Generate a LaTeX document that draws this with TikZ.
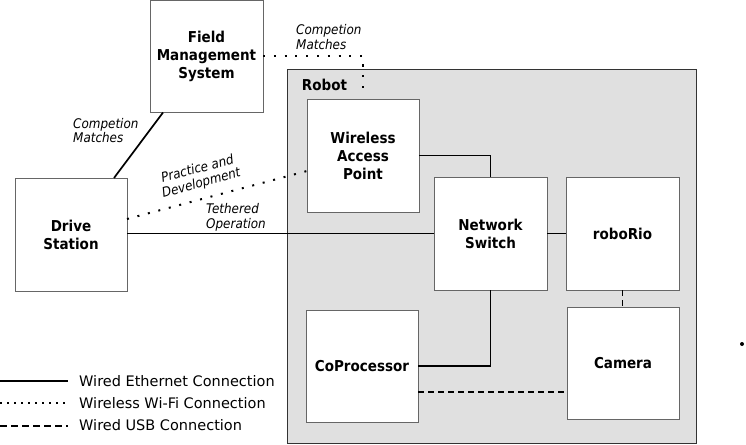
\documentclass[tikz,border=0pt]{standalone}
\usepackage{fontspec}
\setmainfont{DejaVu Sans}
\newfontfamily\condfont{DejaVu Sans}[FakeStretch=0.9]
\usetikzlibrary{calc}
\definecolor{robotfill}{HTML}{E0E0E0}
\definecolor{boxline}{HTML}{666666}
\definecolor{robotline}{HTML}{333333}
\tikzset{
  box/.style={draw=boxline, line width=0.9pt, fill=white, anchor=north west,
    inner sep=0pt, outer sep=0pt, align=center,
    font=\condfont\bfseries\fontsize{15}{18}\selectfont},
  lbl/.style={inner sep=0pt, font=\condfont\itshape\fontsize{13.3}{14.5}\selectfont},
  legtext/.style={inner sep=0pt, anchor=west, font=\fontsize{14.5}{17}\selectfont},
  eth/.style={line width=1.7pt},
  wifi/.style={line width=2pt, line cap=butt, dash pattern=on 2pt off 8.8pt},
  usb/.style={line width=1.7pt, dash pattern=on 6pt off 4pt},
  legwifi/.style={line width=1.5pt, dash pattern=on 1.5pt off 5.5pt},
  legusb/.style={line width=1.7pt, dash pattern=on 7pt off 4pt},
}
\begin{document}
\begin{tikzpicture}[x=1pt,y=-1pt]
\useasboundingbox (0,0) rectangle (746,444);
% robot container
\node[draw=robotline, line width=1pt, fill=robotfill, anchor=north west, inner sep=0pt,
  minimum width=409pt, minimum height=374pt] (robot) at (287,69) {};
\node[inner sep=0pt, font=\condfont\bfseries\fontsize{15}{18}\selectfont] (robotlbl) at (324.5,85) {Robot};
% boxes
\node[box, minimum width=113pt, minimum height=112pt] (fms) at (150,0.5) {Field\\Management\\System};
\node[box, minimum width=112pt, minimum height=113pt] (ds) at (15,178) {Drive\\Station};
\node[box, minimum width=112pt, minimum height=113pt] (wap) at (307,99) {Wireless\\Access\\Point};
\node[box, minimum width=113pt, minimum height=113pt] (ns) at (434,177) {Network\\Switch};
\node[box, minimum width=113pt, minimum height=113pt] (rio) at (566,177) {roboRio};
\node[box, minimum width=112pt, minimum height=112pt] (cam) at (567,307) {Camera};
\node[box, minimum width=112pt, minimum height=112pt] (cop) at (306,310) {CoProcessor};
% connectors
\draw[eth] ($(fms.south west)+(13,0)$) -- ($(ds.north east)+(-13,0)$);
\coordinate (wapin) at ($(wap.north)+(0,-3)$);
\draw[wifi] (fms.east) -| (wapin);
\draw[wifi] ($(ds.east)+(0,-15.5)$) -- ($(wap.west)+(0,15.5)$);
\draw[eth] (ns.west) -- (ns.west -| ds.east);
\draw[eth] (wap.east) -| (ns.north);
\draw[eth] (ns.east) -- (rio.west);
\draw[eth] (ns.south) |- (cop.east);
\draw[usb] (rio.south) -- (rio.south |- cam.north);
\coordinate (copusb) at ($(cop.east)+(0,26)$);
\draw[usb] (copusb) -- (copusb -| cam.west);
% labels
\node[lbl, align=left, anchor=west] (l1) at (296,37) {Competion\\Matches};
\node[lbl, align=left, anchor=west] (l2) at (73,130.5) {Competion\\Matches};
\node[lbl, align=center, rotate=15] (l3) at (199.5,176.5) {Practice and\\Development};
\node[lbl, align=left, anchor=west] (l4) at (206,217.5) {Tethered\\Operation};
% legend
\coordinate (a1) at (0,381); \coordinate (b1) at (68,381);
\coordinate (a2) at (0,403); \coordinate (b2) at (68,403);
\coordinate (a3) at (0,426); \coordinate (b3) at (68,426);
\draw[eth] (a1) -- (b1);
\draw[legwifi] (a2) -- (b2);
\draw[legusb] (a3) -- (b3);
\node[legtext] (t1) at (79,381.5) {Wired Ethernet Connection};
\node[legtext] (t2) at (79,403.5) {Wireless Wi-Fi Connection};
\node[legtext] (t3) at (79,425.5) {Wired USB Connection};
% stray dot
\fill (742,344) circle (2pt);
\end{tikzpicture}
\end{document}
